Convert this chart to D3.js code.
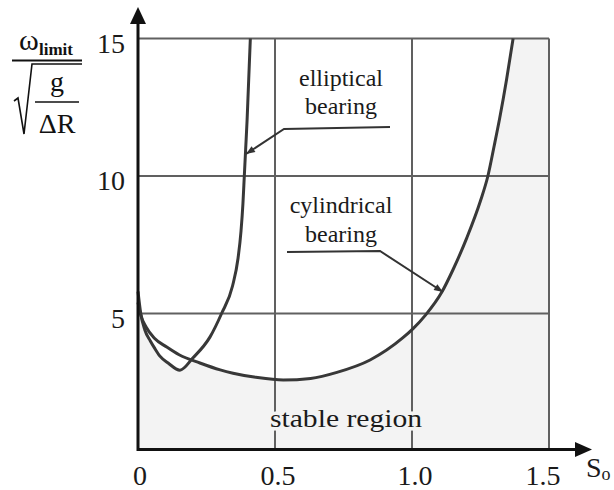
<!DOCTYPE html>
<html>
<head>
<meta charset="utf-8">
<script src="https://cdn.jsdelivr.net/npm/d3@7"></script>
<style>
  html, body { margin: 0; padding: 0; background: #fff; }
  svg { display: block; }
</style>
</head>
<body>
<svg id="chart" width="614" height="490"></svg>
<script>
// ---- data ----
const xTicks = [0, 0.5, 1.0, 1.5];
const xTickLabels = ["0", "0.5", "1.0", "1.5"];
const yTicks = [5, 10, 15];
const yTickLabels = ["5", "10", "15"];

// elliptical bearing: [S_o, omega_limit / sqrt(g/ΔR)]
const ellipticalS = [0, 0.01, 0.025, 0.045, 0.06, 0.08, 0.11, 0.153, 0.2, 0.263, 0.305, 0.345, 0.365, 0.376, 0.383, 0.388, 0.393, 0.398, 0.402, 0.406, 0.41];
const ellipticalV = [5.8, 5.0, 4.4, 4.0, 3.75, 3.45, 3.2, 2.94, 3.38, 4.15, 5.0, 6.0, 7.0, 8.0, 9.0, 10.0, 11.0, 12.0, 13.0, 14.0, 15.0];

// cylindrical bearing
const cylindricalS = [0, 0.01, 0.03, 0.06, 0.105, 0.15, 0.226, 0.3, 0.347, 0.43, 0.53, 0.63, 0.726, 0.847, 0.967, 1.004, 1.05, 1.109, 1.15, 1.2, 1.25, 1.277, 1.3, 1.32, 1.345, 1.369];
const cylindricalV = [5.4, 4.95, 4.5, 4.1, 3.78, 3.5, 3.2, 2.95, 2.83, 2.68, 2.58, 2.64, 2.86, 3.31, 4.12, 4.45, 4.95, 5.78, 6.6, 7.75, 9.1, 10.0, 11.1, 12.1, 13.5, 15.0];

const labels = {
  elliptical: ["elliptical", "bearing"],
  cylindrical: ["cylindrical", "bearing"],
  stable: "stable region"
};

// ---- layout ----
const FONT = "'Liberation Serif', 'Times New Roman', Tinos, serif";
const svg = d3.select("#chart").attr("font-family", FONT);
const x = d3.scaleLinear().domain([0, 1.5]).range([138, 549]);
const y = d3.scaleLinear().domain([0, 15]).range([451, 38.5]);

const ell = ellipticalS.map((s, i) => ({ s, v: ellipticalV[i] }));
const cyl = cylindricalS.map((s, i) => ({ s, v: cylindricalV[i] }));

const shade = "#f3f3f3";
const curve = d3.curveMonotoneX;

// shaded stable region: under cylindrical curve + right of it
svg.append("path")
  .datum(cyl)
  .attr("fill", shade)
  .attr("d", d3.area().curve(curve).x(d => x(d.s)).y0(y(0)).y1(d => y(d.v)));
const lastC = cyl[cyl.length - 1];
svg.append("rect")
  .attr("x", x(lastC.s) - 0.5).attr("y", y(15))
  .attr("width", x(1.5) - x(lastC.s) + 0.5).attr("height", y(0) - y(15))
  .attr("fill", shade);
// unstable region above elliptical curve (white)
svg.append("path")
  .datum(ell)
  .attr("fill", "#fff")
  .attr("d", d3.area().curve(curve).x(d => x(d.s)).y0(y(15)).y1(d => y(d.v)));

// grid lines
const grid = svg.append("g").attr("stroke", "#606060").attr("stroke-width", 2);
grid.selectAll("line.v").data(xTicks.filter(t => t > 0)).join("line")
  .attr("x1", d => x(d)).attr("x2", d => x(d))
  .attr("y1", y(15)).attr("y2", y(0));
grid.selectAll("line.h").data(yTicks).join("line")
  .attr("x1", x(0)).attr("x2", x(1.5))
  .attr("y1", d => y(d)).attr("y2", d => y(d));

// stable region label (with background knock-out over grid)
svg.append("text")
  .attr("font-family", FONT)
  .attr("x", 346).attr("y", 427)
  .attr("text-anchor", "middle")
  .attr("font-size", 25)
  .attr("textLength", 152).attr("lengthAdjust", "spacingAndGlyphs")
  .attr("fill", "#1a1a1a")
  .attr("stroke", shade).attr("stroke-width", 7).attr("paint-order", "stroke")
  .text(labels.stable);

// curves
const line = d3.line().curve(curve).x(d => x(d.s)).y(d => y(d.v));
svg.append("path").datum(cyl).attr("fill", "none").attr("stroke", "#383838")
  .attr("stroke-width", 3).attr("d", line);
svg.append("path").datum(ell).attr("fill", "none").attr("stroke", "#383838")
  .attr("stroke-width", 3).attr("d", line);

// axes
svg.append("line").attr("x1", x(0)).attr("x2", 578).attr("y1", y(0) - 1.5).attr("y2", y(0) - 1.5)
  .attr("stroke", "#111").attr("stroke-width", 3);
svg.append("line").attr("x1", x(0)).attr("x2", x(0)).attr("y1", y(0)).attr("y2", 22)
  .attr("stroke", "#111").attr("stroke-width", 3);
svg.append("path").attr("d", `M${x(0)},7 L${x(0) - 8},24 L${x(0) + 8},24 Z`).attr("fill", "#111");
svg.append("path").attr("d", `M592,${y(0) - 1.5} L575,${y(0) - 9} L575,${y(0) + 6} Z`).attr("fill", "#111");

// tick labels
svg.selectAll("text.xt").data(xTicks).join("text")
  .attr("class", "xt").attr("font-family", FONT).attr("fill", "#1a1a1a")
  .attr("x", (d, i) => x(d) + (i === 0 ? 2 : i === 3 ? -6 : 3))
  .attr("y", 485)
  .attr("text-anchor", "middle").attr("font-size", 28)
  .text((d, i) => xTickLabels[i]);
svg.selectAll("text.yt").data(yTicks).join("text")
  .attr("class", "yt").attr("font-family", FONT).attr("fill", "#1a1a1a")
  .attr("x", 125).attr("y", d => y(d) + 14)
  .attr("text-anchor", "end").attr("font-size", 28)
  .text((d, i) => yTickLabels[i]);

// x axis title S_o
const sx = svg.append("text").attr("font-family", FONT).attr("fill", "#1a1a1a")
  .attr("x", 586).attr("y", 477).attr("font-size", 28);
sx.append("tspan").text("S");
sx.append("tspan").attr("font-size", 18).attr("dy", 3).text("o");

// y axis title: ω_limit / sqrt(g/ΔR)
const yt = svg.append("g").attr("font-family", FONT);
yt.append("text").attr("font-family", FONT).attr("x", 19).attr("y", 50).attr("font-size", 30).attr("fill", "#111").text("ω");
yt.append("text").attr("font-family", FONT).attr("x", 39).attr("y", 55).attr("font-size", 17).attr("font-weight", "bold").attr("fill", "#111").text("limit");
yt.append("line").attr("x1", 12).attr("x2", 82).attr("y1", 60.5).attr("y2", 60.5)
  .attr("stroke", "#111").attr("stroke-width", 2);
yt.append("path").attr("d", "M14,101 L18,98 L24,134 L32,64 L82,64")
  .attr("fill", "none").attr("stroke", "#111").attr("stroke-width", 1.6);
yt.append("text").attr("font-family", FONT).attr("x", 57).attr("y", 91).attr("text-anchor", "middle").attr("font-size", 28).attr("fill", "#111").text("g");
yt.append("line").attr("x1", 35).attr("x2", 79).attr("y1", 102).attr("y2", 102)
  .attr("stroke", "#111").attr("stroke-width", 1.5);
yt.append("text").attr("font-family", FONT).attr("x", 57).attr("y", 133).attr("text-anchor", "middle").attr("font-size", 28).attr("fill", "#111").text("ΔR");

// annotations
function annot(lines, cx, y0, dy, pts) {
  lines.forEach((t, i) => {
    svg.append("text").attr("font-family", FONT).attr("fill", "#1a1a1a")
      .attr("x", cx).attr("y", y0 + i * dy)
      .attr("text-anchor", "middle").attr("font-size", 24).text(t);
  });
  svg.append("path").attr("d", d3.line()(pts))
    .attr("fill", "none").attr("stroke", "#333").attr("stroke-width", 2);
  const [a, b] = [pts[pts.length - 2], pts[pts.length - 1]];
  const ang = Math.atan2(b[1] - a[1], b[0] - a[0]);
  const L = 9, W = 3.5;
  const p1 = [b[0] - L * Math.cos(ang) + W * Math.sin(ang), b[1] - L * Math.sin(ang) - W * Math.cos(ang)];
  const p2 = [b[0] - L * Math.cos(ang) - W * Math.sin(ang), b[1] - L * Math.sin(ang) + W * Math.cos(ang)];
  svg.append("path").attr("d", `M${b[0]},${b[1]} L${p1[0]},${p1[1]} L${p2[0]},${p2[1]} Z`).attr("fill", "#333");
}
annot(labels.elliptical, 341, 86, 28, [[390, 127], [284, 129], [246, 154]]);
annot(labels.cylindrical, 341, 213, 29, [[287, 252], [380, 251], [443, 292]]);
</script>
</body>
</html>
